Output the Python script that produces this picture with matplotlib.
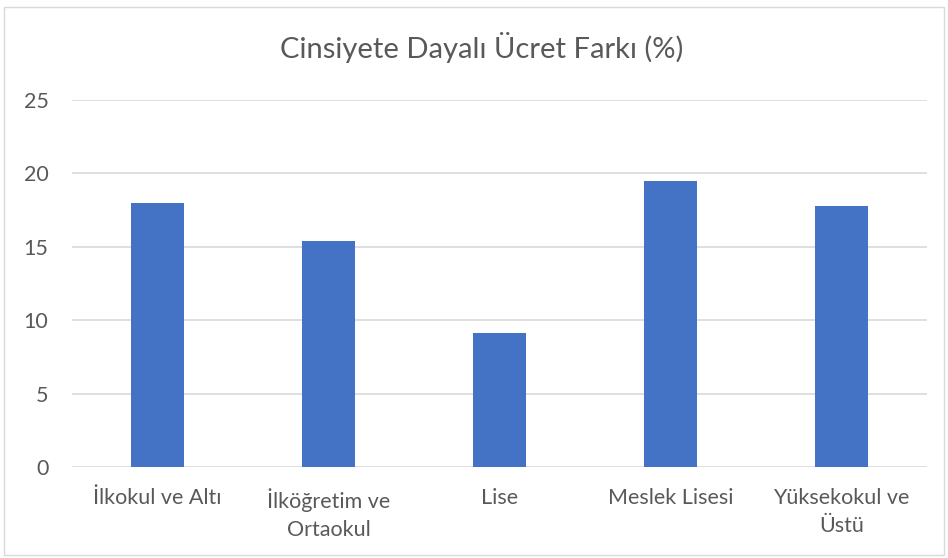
import matplotlib.pyplot as plt
from matplotlib.patches import Rectangle

categories = ["İlkokul ve Altı", "İlköğretim ve\nOrtaokul", "Lise", "Meslek Lisesi", "Yüksekokul ve\nÜstü"]
values = [18.0, 15.4, 9.1, 19.5, 17.8]
yticks = [0, 5, 10, 15, 20, 25]

plt.rcParams['font.family'] = ['Lato', 'DejaVu Sans']

fig = plt.figure(figsize=(9.48, 5.58), dpi=100)
ax = fig.add_axes([0.076, 0.163, 0.902, 0.658])

x = range(len(categories))
ax.bar(x, values, width=0.31, color='#4472C4', zorder=3)

ax.set_ylim(0, 25)
ax.set_xlim(-0.5, len(categories) - 0.5)
ax.set_yticks(yticks)
ax.set_xticks(list(x))
ax.set_xticklabels(categories, linespacing=1.5)
ax.yaxis.grid(True, color='#D9D9D9', linewidth=1.2, zorder=0)
for sp in ax.spines.values():
    sp.set_visible(False)
ax.tick_params(axis='both', length=0, labelsize=15.5, colors='#595959')
ax.tick_params(axis='y', pad=17)
ax.tick_params(axis='x', pad=15)

fig.text(0.508, 0.914, "Cinsiyete Dayalı Ücret Farkı (%)", ha='center', va='center',
         fontsize=21, color='#595959')

# chart border
fig.patches.append(Rectangle((0.004, 0.005), 0.992, 0.982, transform=fig.transFigure,
                             fill=False, edgecolor='#D9D9D9', linewidth=1))

fig.savefig('out.png', dpi=100)
